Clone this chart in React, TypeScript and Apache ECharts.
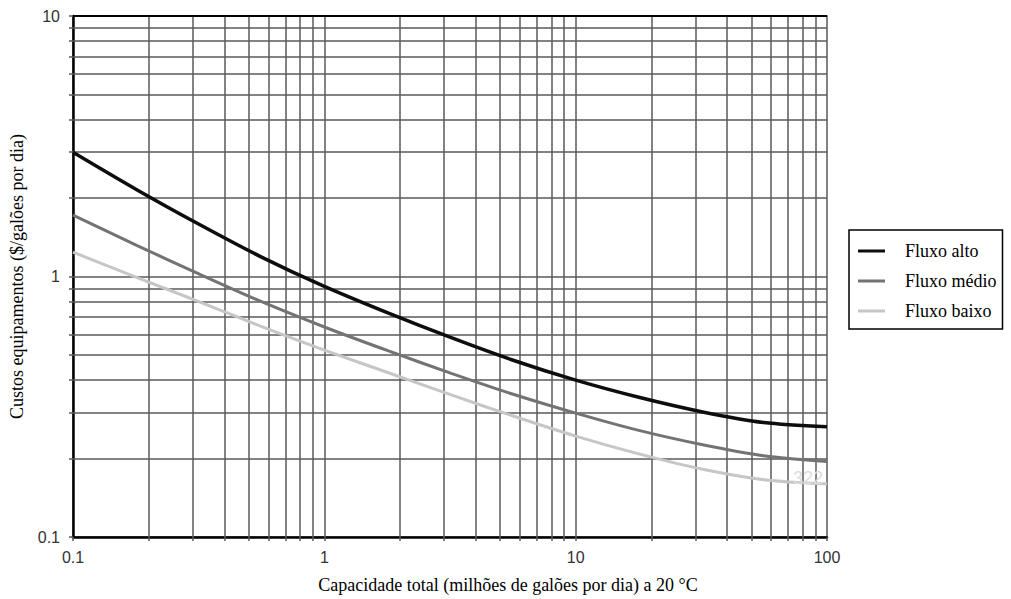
import React, { useEffect, useRef } from "react";
import * as echarts from "echarts";

const xValues = [0.1, 0.18, 0.32, 0.56, 1, 1.8, 3.2, 5.6, 10, 18, 32, 56, 100];
const fluxoAlto = [3.0, 2.15, 1.58, 1.19, 0.916, 0.723, 0.582, 0.478, 0.4, 0.343, 0.302, 0.275, 0.265];
const fluxoMedio = [1.72, 1.315, 1.019, 0.802, 0.64, 0.518, 0.425, 0.354, 0.299, 0.256, 0.226, 0.205, 0.195];
const fluxoBaixo = [1.24, 0.991, 0.798, 0.644, 0.522, 0.427, 0.351, 0.292, 0.244, 0.208, 0.182, 0.166, 0.16];

const seriesNames = ["Fluxo alto", "Fluxo médio", "Fluxo baixo"];
const seriesColors = ["#0d0d0d", "#737373", "#c6c6c6"];

const xGridValues = [0.2, 0.3, 0.4, 0.5, 0.6, 0.7, 0.8, 0.9, 1, 2, 3, 4, 5, 6, 7, 8, 9, 10, 20, 30, 40, 50, 60, 70, 80, 90];
const yGridValues = [0.2, 0.3, 0.4, 0.5, 0.6, 0.7, 0.8, 0.9, 1, 2, 3, 4, 5, 6, 7, 8, 9];
const xTickValues = [0.1, ...xGridValues, 100];
const yTickValues = [0.1, ...yGridValues, 10];

const xTitle = "Capacidade total (milhões de galões por dia) a 20 °C";
const yTitle = "Custos equipamentos ($/galões por dia)";

export default function App() {
  const ref = useRef<HTMLDivElement>(null);
  useEffect(() => {
    if (!ref.current) return;
    const chart = echarts.init(ref.current, undefined, { renderer: "svg" });
    const seriesData = [fluxoAlto, fluxoMedio, fluxoBaixo];
    const gridLine = { color: "#5a5a5a", width: 1.5, type: "solid" };
    const series: any[] = seriesData.map((vals, i) => ({
      name: seriesNames[i],
      type: "line",
      smooth: 0.3,
      symbol: "none",
      data: xValues.map((x, j) => [x, vals[j]]),
      lineStyle: { color: seriesColors[i], width: i === 0 ? 3.5 : 3 },
      itemStyle: { color: seriesColors[i] },
      z: 3,
    }));
    series[0].markLine = {
      silent: true,
      symbol: "none",
      z: 1,
      label: { show: false },
      lineStyle: gridLine,
      data: [
        ...xGridValues.map((v) => ({ xAxis: v })),
        ...yGridValues.map((v) => ({ yAxis: v })),
        { yAxis: 10, lineStyle: { color: "#000", width: 2 } },
      ],
    };
    chart.setOption({
      animation: false,
      backgroundColor: "#fff",
      grid: {
        left: 67,
        right: 1011 - 827,
        top: 16,
        bottom: 599 - 539,
        show: true,
        borderColor: "#5a5a5a",
        borderWidth: 1.5,
      },
      legend: {
        orient: "vertical",
        left: 849,
        top: 230,
        data: seriesNames,
        icon: "rect",
        itemWidth: 27,
        itemHeight: 3,
        itemGap: 12,
        padding: [12, 6, 9, 9],
        borderColor: "#000",
        borderWidth: 1.5,
        backgroundColor: "#fff",
        textStyle: {
          fontFamily: "Liberation Serif",
          fontSize: 18,
          color: "#000",
          padding: [0, 0, 0, 15],
        },
      },
      xAxis: {
        type: "log",
        logBase: 10,
        min: 0.1,
        max: 100,
        name: xTitle,
        nameLocation: "middle",
        nameGap: 39,
        nameTextStyle: {
          fontFamily: "Liberation Serif",
          fontSize: 18,
          color: "#000",
          padding: [0, 0, 0, 116],
        },
        axisLine: { show: true, lineStyle: { color: "#000", width: 2.5 } },
        axisTick: {
          show: true,
          length: 4,
          customValues: xTickValues,
          lineStyle: { color: "#5a5a5a", width: 1.5 },
        },
        axisLabel: {
          fontFamily: "Liberation Sans",
          fontSize: 16,
          color: "#333",
          margin: 12,
        },
        splitLine: { show: false },
      },
      yAxis: {
        type: "log",
        logBase: 10,
        min: 0.1,
        max: 10,
        name: yTitle,
        nameLocation: "middle",
        nameGap: 47,
        nameTextStyle: {
          fontFamily: "Liberation Serif",
          fontSize: 18,
          color: "#000",
        },
        axisLine: { show: true, lineStyle: { color: "#000", width: 2.5 } },
        axisTick: {
          show: true,
          length: 4,
          customValues: yTickValues,
          lineStyle: { color: "#5a5a5a", width: 1.5 },
        },
        axisLabel: {
          fontFamily: "Liberation Sans",
          fontSize: 16,
          color: "#333",
          margin: 13,
        },
        splitLine: { show: false },
      },
      graphic: [
        {
          type: "text",
          left: 793,
          top: 469,
          silent: true,
          z: 10,
          style: {
            text: "322",
            fontFamily: "Liberation Sans",
            fontSize: 18,
            fill: "#dcdcdc",
          },
        },
      ],
      series,
    });
    return () => chart.dispose();
  }, []);
  return (
    <div
      ref={ref}
      style={{ position: "absolute", left: 0, top: 0, width: 1011, height: 599 }}
    />
  );
}
